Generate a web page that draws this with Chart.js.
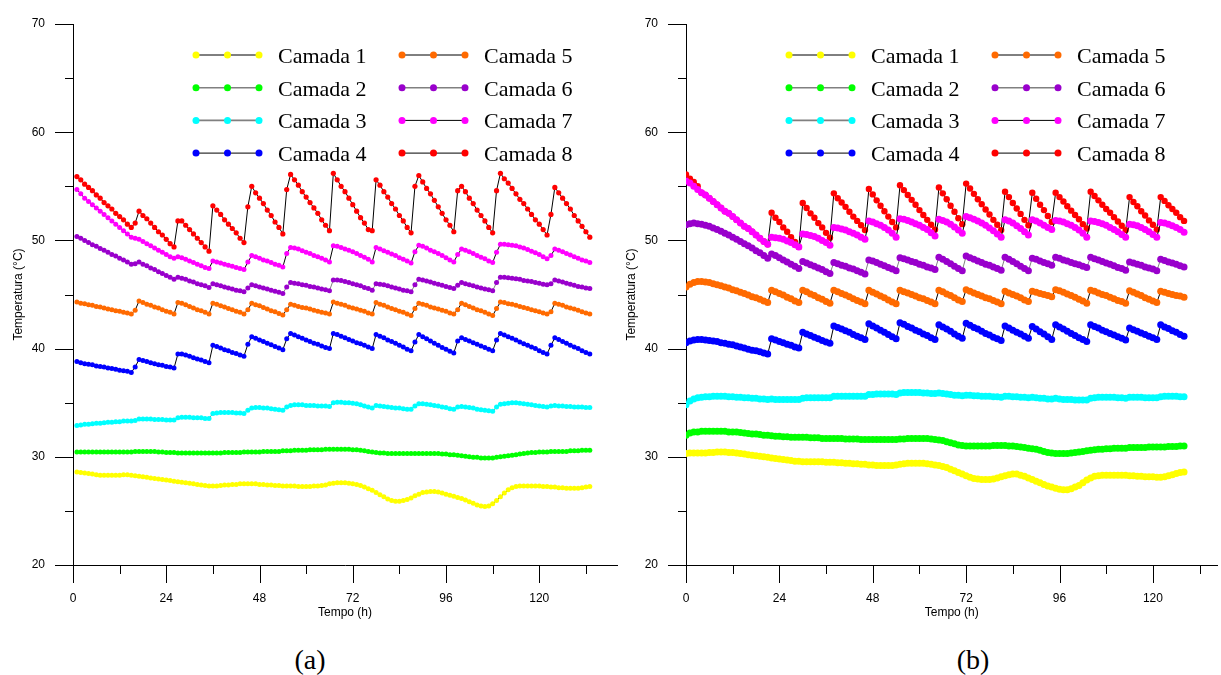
<!DOCTYPE html>
<html lang="pt">
<head>
    <meta charset="UTF-8">
    <title>Temperatura das camadas</title>
    <script src="https://cdn.jsdelivr.net/npm/chart.js@4.4.1/dist/chart.umd.min.js"></script>
    <style>
        body { margin: 0; background: #fff; width: 1221px; height: 675px; position: relative; overflow: hidden; }
        .box { position: absolute; top: 0; height: 640px; }
        #boxA { left: 0; width: 620px; }
        #boxB { left: 613px; width: 608px; }
        .caption { position: absolute; top: 644px; line-height: 32px; font-family: "Liberation Serif", "Times New Roman", serif; font-size: 28px; transform: translateX(-50%); }
    </style>
</head>
<body>
    <div class="box" id="boxA"><canvas id="chartA" width="620" height="640"></canvas></div>
    <div class="box" id="boxB"><canvas id="chartB" width="608" height="640"></canvas></div>
    <div class="caption" style="left: 310px;">(a)</div>
    <div class="caption" style="left: 973px;">(b)</div>

    <script>
        const camadas = ['Camada 1', 'Camada 2', 'Camada 3', 'Camada 4', 'Camada 5', 'Camada 6', 'Camada 7', 'Camada 8'];
        const cores = ['#ffff00', '#00ff00', '#00ffff', '#0000ff', '#ff6a00', '#9900cc', '#ff00ff', '#ff0000'];
        const linhas = ['#000000', '#808080', '#808080', '#000000', '#000000', '#808080', '#000000', '#000000'];

        // (a): hourly readings, t = 1 .. 133 h
        const horasA = Array.from({ length: 133 }, (_, i) => i + 1);

        const camada1A = [28.6, 28.55, 28.5, 28.45, 28.4, 28.35, 28.3, 28.3, 28.3, 28.3, 28.3, 28.3, 28.35, 28.35, 28.3,
            28.25, 28.2, 28.15, 28.1, 28.05, 28.0, 27.95, 27.9, 27.85, 27.8, 27.75, 27.7, 27.65, 27.6, 27.55,
            27.5, 27.45, 27.4, 27.35, 27.3, 27.3, 27.3, 27.35, 27.4, 27.4, 27.45, 27.45, 27.5, 27.5, 27.5,
            27.5, 27.5, 27.45, 27.45, 27.4, 27.4, 27.35, 27.35, 27.3, 27.3, 27.3, 27.3, 27.25, 27.25, 27.25,
            27.25, 27.3, 27.3, 27.35, 27.4, 27.5, 27.55, 27.6, 27.6, 27.6, 27.55, 27.5, 27.45, 27.35, 27.2,
            27.05, 26.9, 26.7, 26.5, 26.3, 26.1, 25.95, 25.9, 25.9, 25.95, 26.05, 26.2, 26.4, 26.55, 26.7,
            26.75, 26.8, 26.8, 26.75, 26.65, 26.55, 26.45, 26.35, 26.25, 26.15, 26.0, 25.85, 25.7, 25.55, 25.45,
            25.4, 25.45, 25.65, 25.95, 26.3, 26.65, 26.95, 27.15, 27.25, 27.3, 27.3, 27.3, 27.3, 27.3, 27.3,
            27.25, 27.25, 27.2, 27.2, 27.15, 27.15, 27.1, 27.1, 27.1, 27.1, 27.15, 27.2, 27.25];
        const camada2A = [30.45, 30.45, 30.45, 30.45, 30.45, 30.45, 30.45, 30.45, 30.45, 30.45, 30.45, 30.45, 30.45, 30.45, 30.45, 30.5, 30.5, 30.5, 30.5, 30.5,
            30.5, 30.45, 30.45, 30.4, 30.4, 30.4, 30.35, 30.35, 30.35, 30.35, 30.35, 30.35, 30.35, 30.35, 30.35, 30.35, 30.35, 30.35, 30.4, 30.4,
            30.4, 30.4, 30.4, 30.45, 30.45, 30.45, 30.45, 30.45, 30.5, 30.5, 30.5, 30.5, 30.5, 30.55, 30.55, 30.55, 30.6, 30.6, 30.6, 30.6,
            30.65, 30.65, 30.65, 30.65, 30.7, 30.7, 30.7, 30.7, 30.7, 30.7, 30.7, 30.65, 30.65, 30.6, 30.55, 30.5, 30.45, 30.4, 30.35, 30.35,
            30.3, 30.3, 30.3, 30.3, 30.3, 30.3, 30.3, 30.3, 30.3, 30.3, 30.3, 30.3, 30.3, 30.3, 30.25, 30.25, 30.2, 30.2, 30.15, 30.1,
            30.05, 30.0, 29.95, 29.95, 29.9, 29.9, 29.9, 29.9, 29.95, 30.0, 30.05, 30.1, 30.15, 30.2, 30.25, 30.3, 30.35, 30.4, 30.4, 30.45,
            30.45, 30.45, 30.5, 30.5, 30.5, 30.5, 30.5, 30.55, 30.55, 30.55, 30.6, 30.6, 30.6];
        const camada3A = [32.9, 32.95, 33.0, 33.0, 33.05, 33.1, 33.1, 33.15, 33.2, 33.2,
            33.25, 33.25, 33.3, 33.3, 33.3, 33.35, 33.5, 33.5, 33.5, 33.5,
            33.45, 33.45, 33.45, 33.4, 33.4, 33.4, 33.6, 33.65, 33.65, 33.65,
            33.6, 33.6, 33.6, 33.55, 33.55, 34.0, 34.05, 34.1, 34.1, 34.1,
            34.1, 34.05, 34.05, 34.0, 34.3, 34.5, 34.55, 34.55, 34.5, 34.5,
            34.45, 34.4, 34.35, 34.3, 34.6, 34.75, 34.8, 34.8, 34.8, 34.75,
            34.75, 34.75, 34.7, 34.7, 34.7, 34.65, 35.0, 35.05, 35.05, 35.0,
            35.0, 34.95, 34.9, 34.8, 34.7, 34.6, 34.5, 34.75, 34.7, 34.65,
            34.6, 34.55, 34.5, 34.5, 34.45, 34.4, 34.4, 34.7, 34.9, 34.9,
            34.85, 34.8, 34.75, 34.7, 34.6, 34.55, 34.45, 34.4, 34.6, 34.65,
            34.6, 34.55, 34.5, 34.4, 34.35, 34.3, 34.25, 34.2, 34.6, 34.85,
            34.9, 34.95, 35.0, 35.0, 34.95, 34.9, 34.85, 34.8, 34.75, 34.7,
            34.65, 34.6, 34.7, 34.75, 34.7, 34.7, 34.65, 34.65, 34.6, 34.6,
            34.6, 34.55, 34.55];
        const camada4A = [38.8, 38.7, 38.6, 38.55, 38.5, 38.4, 38.35, 38.3, 38.2, 38.15,
            38.1, 38.0, 37.95, 37.9, 37.8, 38.3, 39.0, 38.9, 38.8, 38.7,
            38.6, 38.5, 38.45, 38.35, 38.3, 38.2, 39.5, 39.5, 39.4, 39.3,
            39.15, 39.05, 38.95, 38.8, 38.7, 40.3, 40.2, 40.05, 39.9, 39.8,
            39.65, 39.55, 39.4, 39.3, 40.4, 41.1, 40.95, 40.8, 40.65, 40.5,
            40.35, 40.2, 40.05, 39.9, 40.9, 41.4, 41.25, 41.1, 40.95, 40.8,
            40.65, 40.5, 40.4, 40.25, 40.1, 40.0, 41.4, 41.3, 41.15, 41.0,
            40.85, 40.7, 40.55, 40.45, 40.3, 40.15, 40.0, 41.3, 41.15, 41.0,
            40.8, 40.65, 40.5, 40.3, 40.15, 39.95, 39.8, 40.6, 41.3, 41.1,
            40.9, 40.7, 40.5, 40.3, 40.1, 39.95, 39.75, 39.6, 40.7, 41.0,
            40.85, 40.7, 40.55, 40.4, 40.25, 40.1, 39.95, 39.8, 40.8, 41.4,
            41.25, 41.1, 40.95, 40.8, 40.6, 40.45, 40.3, 40.15, 40.0, 39.8,
            39.65, 39.5, 40.3, 41.0, 40.85, 40.65, 40.5, 40.3, 40.15, 40.0,
            39.8, 39.65, 39.5];
        const camada5A = [44.3, 44.2, 44.15, 44.05, 44.0, 43.9, 43.85, 43.75, 43.65, 43.6,
            43.5, 43.45, 43.35, 43.3, 43.2, 43.55, 44.4, 44.25, 44.1, 44.0,
            43.85, 43.75, 43.6, 43.45, 43.35, 43.2, 44.25, 44.2, 44.05, 43.9,
            43.75, 43.6, 43.5, 43.35, 43.2, 44.2, 44.1, 43.95, 43.85, 43.7,
            43.6, 43.45, 43.35, 43.2, 43.6, 44.2, 44.05, 43.95, 43.8, 43.65,
            43.5, 43.4, 43.25, 43.1, 43.6, 44.1, 44.0, 43.9, 43.8, 43.75,
            43.65, 43.55, 43.45, 43.35, 43.3, 43.2, 44.3, 44.2, 44.1, 44.0,
            43.85, 43.75, 43.65, 43.55, 43.45, 43.3, 43.2, 44.25, 44.1, 44.0,
            43.85, 43.7, 43.6, 43.45, 43.35, 43.2, 43.05, 43.7, 44.2, 44.1,
            44.0, 43.85, 43.75, 43.65, 43.55, 43.45, 43.3, 43.2, 43.6, 44.2,
            44.05, 43.9, 43.75, 43.6, 43.5, 43.35, 43.2, 43.05, 43.7, 44.3,
            44.25, 44.15, 44.1, 44.0, 43.9, 43.8, 43.7, 43.6, 43.5, 43.4,
            43.3, 43.2, 43.4, 44.2, 44.1, 44.0, 43.85, 43.75, 43.65, 43.55,
            43.4, 43.3, 43.2];
        const camada6A = [50.35, 50.2, 50.0, 49.8, 49.6, 49.45, 49.25, 49.1, 48.9, 48.7,
            48.55, 48.35, 48.2, 48.0, 47.8, 47.85, 48.0, 47.8, 47.65, 47.45,
            47.3, 47.1, 46.95, 46.75, 46.6, 46.4, 46.6, 46.5, 46.4, 46.25,
            46.15, 46.0, 45.9, 45.8, 45.65, 46.0, 45.9, 45.8, 45.7, 45.6,
            45.5, 45.4, 45.35, 45.25, 45.6, 45.9, 45.8, 45.7, 45.6, 45.5,
            45.4, 45.3, 45.2, 45.1, 45.7, 46.1, 46.05, 46.0, 45.9, 45.85,
            45.75, 45.7, 45.6, 45.5, 45.45, 45.35, 46.35, 46.35, 46.3, 46.2,
            46.1, 46.0, 45.9, 45.8, 45.65, 45.55, 45.4, 46.0, 45.95, 45.9,
            45.8, 45.7, 45.6, 45.5, 45.4, 45.35, 45.25, 45.9, 46.4, 46.35,
            46.25, 46.15, 46.05, 45.95, 45.85, 45.75, 45.65, 45.55, 45.85, 46.1,
            46.0, 45.9, 45.8, 45.7, 45.6, 45.5, 45.45, 45.35, 46.1, 46.6,
            46.6, 46.55, 46.5, 46.45, 46.4, 46.3, 46.25, 46.2, 46.1, 46.05,
            45.95, 45.9, 46.0, 46.35, 46.25, 46.15, 46.05, 45.95, 45.85, 45.75,
            45.7, 45.6, 45.55];
        const camada7A = [54.7, 54.3, 53.9, 53.6, 53.3, 53.0, 52.7, 52.4, 52.1, 51.8,
            51.5, 51.2, 50.9, 50.6, 50.3, 50.2, 50.1, 49.9, 49.7, 49.5,
            49.3, 49.1, 48.9, 48.7, 48.5, 48.35, 48.5, 48.4, 48.25, 48.1,
            47.95, 47.8, 47.65, 47.5, 47.4, 48.1, 48.0, 47.9, 47.8, 47.7,
            47.6, 47.5, 47.4, 47.3, 48.0, 48.6, 48.5, 48.35, 48.2, 48.1,
            47.95, 47.8, 47.7, 47.55, 48.8, 49.35, 49.3, 49.2, 49.05, 48.9,
            48.8, 48.6, 48.5, 48.35, 48.2, 48.0, 49.5, 49.45, 49.35, 49.2,
            49.1, 48.95, 48.8, 48.6, 48.45, 48.25, 48.0, 49.35, 49.2, 49.05,
            48.9, 48.75, 48.6, 48.4, 48.25, 48.1, 47.9, 48.95, 49.55, 49.45,
            49.3, 49.1, 48.95, 48.8, 48.6, 48.4, 48.2, 48.0, 48.7, 49.2,
            49.1, 48.95, 48.8, 48.6, 48.45, 48.3, 48.1, 47.95, 48.9, 49.65,
            49.65, 49.6, 49.55, 49.5, 49.4, 49.3, 49.15, 49.0, 48.85, 48.7,
            48.5, 48.3, 48.6, 49.2, 49.1, 48.95, 48.8, 48.65, 48.5, 48.35,
            48.2, 48.1, 47.95];
        const camada8A = [55.9, 55.6, 55.2, 54.9, 54.6, 54.2, 53.9, 53.5, 53.2, 52.9,
            52.5, 52.2, 51.9, 51.5, 51.2, 51.6, 52.7, 52.3, 52.0, 51.6,
            51.2, 50.8, 50.5, 50.1, 49.7, 49.4, 51.8, 51.8, 51.4, 51.0,
            50.6, 50.2, 49.8, 49.4, 49.0, 53.2, 52.8, 52.4, 51.9, 51.5,
            51.1, 50.7, 50.2, 49.8, 53.1, 55.0, 54.4, 53.9, 53.4, 52.8,
            52.3, 51.7, 51.2, 50.6, 54.7, 56.1, 55.6, 55.1, 54.5, 54.0,
            53.5, 53.0, 52.5, 51.9, 51.4, 50.9, 56.2, 55.6, 55.0, 54.5,
            53.9, 53.3, 52.7, 52.1, 51.6, 51.0, 50.9, 55.6, 55.1, 54.5,
            54.0, 53.4, 52.9, 52.3, 51.8, 51.2, 50.7, 55.0, 56.0, 55.4,
            54.8, 54.3, 53.7, 53.1, 52.5, 51.9, 51.4, 50.8, 54.6, 55.0,
            54.5, 53.9, 53.4, 52.8, 52.3, 51.8, 51.2, 50.7, 54.6, 56.2,
            55.7, 55.3, 54.8, 54.3, 53.8, 53.4, 52.9, 52.4, 51.9, 51.5,
            51.0, 50.5, 52.4, 54.9, 54.4, 53.9, 53.4, 52.9, 52.3, 51.8,
            51.3, 50.8, 50.3];

        // (b): hourly readings, t = 0 .. 128 h
        const horasB = Array.from({ length: 129 }, (_, i) => i);

        const camada1B = [30.3, 30.35, 30.35, 30.35, 30.35, 30.35, 30.4, 30.4, 30.45, 30.45,
            30.45, 30.4, 30.4, 30.35, 30.3, 30.25, 30.2, 30.15, 30.1, 30.05,
            30.0, 29.95, 29.9, 29.85, 29.8, 29.75, 29.7, 29.65, 29.6, 29.6,
            29.55, 29.55, 29.55, 29.55, 29.55, 29.55, 29.5, 29.5, 29.5, 29.45,
            29.45, 29.4, 29.4, 29.35, 29.35, 29.3, 29.3, 29.25, 29.25, 29.2,
            29.2, 29.2, 29.2, 29.2, 29.25, 29.3, 29.35, 29.4, 29.4, 29.4,
            29.4, 29.4, 29.35, 29.3, 29.25, 29.2, 29.1, 29.0, 28.85, 28.7,
            28.55, 28.4, 28.25, 28.1, 28.0, 27.95, 27.9, 27.9, 27.9, 27.95,
            28.05, 28.15, 28.25, 28.35, 28.4, 28.4, 28.3, 28.2, 28.05, 27.9,
            27.75, 27.6, 27.45, 27.3, 27.2, 27.1, 27.0, 26.95, 26.95, 27.05,
            27.2, 27.35, 27.6, 27.85, 28.05, 28.2, 28.25, 28.3, 28.3, 28.3,
            28.3, 28.3, 28.3, 28.3, 28.25, 28.25, 28.2, 28.2, 28.15, 28.15,
            28.15, 28.1, 28.1, 28.15, 28.25, 28.35, 28.45, 28.55, 28.6];
        const camada2B = [32.0, 32.2, 32.3, 32.3, 32.35, 32.35, 32.35, 32.35, 32.35, 32.35,
            32.35, 32.3, 32.3, 32.3, 32.25, 32.2, 32.15, 32.1, 32.1, 32.05,
            32.0, 32.0, 31.95, 31.9, 31.9, 31.85, 31.85, 31.8, 31.8, 31.8,
            31.8, 31.8, 31.75, 31.75, 31.75, 31.7, 31.7, 31.7, 31.7, 31.7,
            31.7, 31.65, 31.65, 31.65, 31.65, 31.6, 31.6, 31.6, 31.6, 31.6,
            31.6, 31.6, 31.6, 31.6, 31.6, 31.65, 31.65, 31.7, 31.7, 31.7,
            31.7, 31.7, 31.7, 31.65, 31.6, 31.55, 31.5, 31.4, 31.3, 31.2,
            31.1, 31.05, 31.0, 31.0, 31.0, 31.0, 31.0, 31.0, 31.0, 31.05,
            31.05, 31.05, 31.05, 31.0, 31.0, 30.95, 30.9, 30.85, 30.8, 30.75,
            30.7, 30.6, 30.5, 30.4, 30.35, 30.3, 30.3, 30.3, 30.3, 30.35,
            30.4, 30.45, 30.5, 30.55, 30.6, 30.65, 30.7, 30.7, 30.75, 30.75,
            30.8, 30.8, 30.8, 30.8, 30.85, 30.85, 30.85, 30.85, 30.85, 30.9,
            30.9, 30.9, 30.9, 30.9, 30.95, 30.95, 30.95, 31.0, 31.0];
        const camada3B = [34.8, 35.15, 35.35, 35.45, 35.5, 35.55, 35.55, 35.6, 35.6, 35.6,
            35.6, 35.55, 35.55, 35.5, 35.5, 35.45, 35.45, 35.4, 35.4, 35.35,
            35.35, 35.3, 35.35, 35.3, 35.3, 35.3, 35.3, 35.3, 35.3, 35.3,
            35.4, 35.45, 35.45, 35.45, 35.45, 35.45, 35.45, 35.45, 35.6, 35.6,
            35.6, 35.6, 35.6, 35.6, 35.6, 35.6, 35.6, 35.75, 35.75, 35.8,
            35.8, 35.8, 35.8, 35.8, 35.75, 35.9, 35.95, 35.95, 35.95, 35.95,
            35.95, 35.9, 35.9, 35.85, 35.85, 35.9, 35.85, 35.8, 35.75, 35.7,
            35.7, 35.65, 35.7, 35.7, 35.65, 35.65, 35.6, 35.6, 35.6, 35.55,
            35.55, 35.5, 35.6, 35.6, 35.55, 35.55, 35.5, 35.5, 35.45, 35.5,
            35.45, 35.4, 35.4, 35.35, 35.35, 35.4, 35.35, 35.3, 35.3, 35.3,
            35.25, 35.25, 35.25, 35.25, 35.4, 35.45, 35.5, 35.5, 35.5, 35.5,
            35.5, 35.45, 35.45, 35.4, 35.5, 35.5, 35.5, 35.5, 35.45, 35.45,
            35.45, 35.45, 35.55, 35.6, 35.6, 35.6, 35.6, 35.55, 35.55];
        const camada4B = [40.55, 40.7, 40.8, 40.85, 40.85, 40.8, 40.75, 40.7, 40.65, 40.55,
            40.5, 40.4, 40.35, 40.25, 40.15, 40.05, 39.95, 39.85, 39.8, 39.7,
            39.6, 39.5, 40.9, 40.8, 40.65, 40.55, 40.4, 40.3, 40.15, 40.05,
            41.5, 41.35, 41.2, 41.05, 40.9, 40.75, 40.6, 40.5, 42.1, 41.95,
            41.8, 41.65, 41.5, 41.3, 41.15, 41.0, 40.85, 42.3, 42.1, 41.9,
            41.7, 41.5, 41.3, 41.1, 40.9, 42.4, 42.25, 42.05, 41.9, 41.7,
            41.55, 41.35, 41.2, 41.0, 40.85, 42.2, 42.0, 41.8, 41.6, 41.35,
            41.15, 40.95, 42.35, 42.15, 41.95, 41.8, 41.6, 41.4, 41.25, 41.05,
            40.9, 40.75, 42.1, 41.9, 41.7, 41.5, 41.35, 41.15, 40.95, 42.05,
            41.8, 41.55, 41.35, 41.1, 40.85, 42.2, 42.0, 41.8, 41.6, 41.4,
            41.2, 41.0, 40.85, 40.65, 42.2, 42.05, 41.9, 41.7, 41.55, 41.4,
            41.25, 41.1, 40.95, 40.8, 41.9, 41.75, 41.6, 41.45, 41.3, 41.15,
            41.0, 40.85, 42.2, 42.0, 41.85, 41.65, 41.5, 41.3, 41.15];
        const camada5B = [45.7, 45.95, 46.1, 46.2, 46.2, 46.15, 46.1, 46.0, 45.9, 45.8,
            45.7, 45.6, 45.45, 45.35, 45.2, 45.1, 44.95, 44.8, 44.7, 44.55,
            44.4, 44.25, 45.4, 45.25, 45.1, 44.95, 44.75, 44.6, 44.4, 44.25,
            45.4, 45.25, 45.05, 44.9, 44.7, 44.55, 44.35, 44.2, 45.4, 45.25,
            45.1, 44.95, 44.8, 44.6, 44.45, 44.3, 44.15, 45.4, 45.2, 45.05,
            44.85, 44.7, 44.5, 44.3, 44.15, 45.4, 45.25, 45.15, 45.0, 44.85,
            44.7, 44.6, 44.45, 44.3, 44.15, 45.4, 45.25, 45.05, 44.9, 44.7,
            44.5, 44.35, 45.45, 45.3, 45.15, 45.0, 44.85, 44.7, 44.6, 44.45,
            44.3, 44.15, 45.3, 45.15, 45.0, 44.85, 44.7, 44.5, 44.35, 45.3,
            45.2, 45.1, 45.0, 44.9, 44.8, 45.45, 45.35, 45.2, 45.05, 44.9,
            44.75, 44.55, 44.4, 44.2, 45.4, 45.3, 45.15, 45.0, 44.9, 44.75,
            44.6, 44.45, 44.35, 44.2, 45.35, 45.2, 45.05, 44.9, 44.7, 44.55,
            44.4, 44.25, 45.3, 45.2, 45.1, 45.0, 44.9, 44.85, 44.75];
        const camada6B = [51.45, 51.55, 51.6, 51.55, 51.5, 51.4, 51.3, 51.15, 51.0, 50.85,
            50.65, 50.5, 50.3, 50.1, 49.9, 49.7, 49.5, 49.3, 49.05, 48.85,
            48.6, 48.35, 48.75, 48.6, 48.4, 48.2, 48.0, 47.8, 47.6, 47.4,
            48.05, 47.9, 47.75, 47.6, 47.45, 47.3, 47.1, 46.95, 47.95, 47.85,
            47.7, 47.6, 47.45, 47.35, 47.2, 47.05, 46.9, 48.2, 48.1, 47.95,
            47.8, 47.65, 47.5, 47.35, 47.2, 48.4, 48.3, 48.2, 48.05, 47.95,
            47.8, 47.7, 47.55, 47.45, 47.3, 48.45, 48.25, 48.05, 47.85, 47.6,
            47.4, 47.2, 48.55, 48.4, 48.25, 48.1, 47.95, 47.8, 47.7, 47.55,
            47.4, 47.25, 48.45, 48.25, 48.05, 47.85, 47.6, 47.4, 47.2, 48.35,
            48.25, 48.1, 47.95, 47.85, 47.7, 48.45, 48.35, 48.2, 48.1, 47.95,
            47.85, 47.75, 47.6, 47.5, 48.45, 48.3, 48.2, 48.05, 47.9, 47.8,
            47.65, 47.5, 47.4, 47.25, 48.0, 47.9, 47.8, 47.7, 47.55, 47.45,
            47.35, 47.2, 48.25, 48.15, 48.0, 47.9, 47.8, 47.65, 47.55];
        const camada7B = [55.5, 55.3, 55.0, 54.7, 54.4, 54.2, 53.9, 53.6, 53.3, 53.0,
            52.7, 52.5, 52.2, 51.9, 51.6, 51.3, 51.1, 50.8, 50.5, 50.2,
            49.9, 49.65, 50.3, 50.25, 50.2, 50.1, 49.95, 49.8, 49.6, 49.4,
            50.6, 50.55, 50.45, 50.35, 50.2, 50.0, 49.8, 49.55, 51.2, 51.15,
            51.05, 50.95, 50.8, 50.65, 50.5, 50.3, 50.1, 51.8, 51.7, 51.55,
            51.4, 51.2, 50.95, 50.65, 50.3, 52.0, 51.95, 51.85, 51.7, 51.55,
            51.4, 51.2, 51.0, 50.7, 50.4, 51.95, 51.85, 51.7, 51.5, 51.25,
            50.95, 50.65, 52.2, 52.1, 51.95, 51.8, 51.6, 51.4, 51.15, 50.9,
            50.6, 50.3, 51.9, 51.8, 51.6, 51.35, 51.1, 50.8, 50.5, 51.9,
            51.8, 51.6, 51.4, 51.2, 51.0, 51.85, 51.8, 51.7, 51.55, 51.4,
            51.2, 50.95, 50.65, 50.3, 51.8, 51.75, 51.65, 51.55, 51.4, 51.2,
            51.0, 50.8, 50.55, 50.3, 51.5, 51.45, 51.35, 51.2, 51.0, 50.8,
            50.55, 50.3, 51.65, 51.6, 51.5, 51.35, 51.2, 51.0, 50.75];
        const camada8B = [56.1, 55.7, 55.4, 55.0, 54.4, 54.2, 53.9, 53.6, 53.3, 53.0,
            52.7, 52.5, 52.2, 51.9, 51.6, 51.3, 51.1, 50.8, 50.5, 50.2,
            49.9, 49.65, 52.55, 52.1, 51.7, 51.2, 50.8, 50.3, 49.85, 49.4,
            53.45, 53.0, 52.5, 52.1, 51.6, 51.2, 50.7, 50.25, 54.35, 53.9,
            53.5, 53.1, 52.65, 52.2, 51.8, 51.4, 50.95, 54.75, 54.25, 53.7,
            53.2, 52.7, 52.2, 51.7, 51.2, 55.1, 54.65, 54.2, 53.75, 53.3,
            52.8, 52.35, 51.9, 51.45, 51.0, 54.9, 54.35, 53.8, 53.2, 52.65,
            52.05, 51.5, 55.25, 54.8, 54.3, 53.8, 53.35, 52.85, 52.4, 51.9,
            51.45, 50.95, 54.5, 54.0, 53.45, 52.95, 52.45, 51.9, 51.4, 54.4,
            53.85, 53.3, 52.8, 52.25, 51.7, 54.4, 54.0, 53.6, 53.15, 52.75,
            52.35, 51.95, 51.5, 51.1, 54.5, 54.1, 53.7, 53.3, 52.9, 52.55,
            52.15, 51.75, 51.35, 50.95, 54.0, 53.55, 53.15, 52.7, 52.3, 51.85,
            51.45, 51.0, 54.0, 53.65, 53.25, 52.9, 52.55, 52.15, 51.8];

        const seriesA = [camada1A, camada2A, camada3A, camada4A, camada5A, camada6A, camada7A, camada8A];
        const seriesB = [camada1B, camada2B, camada3B, camada4B, camada5B, camada6B, camada7B, camada8B];

        Chart.defaults.color = '#000';
        Chart.defaults.font.family = '"Liberation Sans", Arial, sans-serif';

        // minor/major tick marks like the original plotting software
        const tickMarks = {
            id: 'tickMarks',
            afterDraw(chart) {
                const { ctx, chartArea, scales: { x, y } } = chart;
                ctx.save();
                ctx.strokeStyle = '#000';
                ctx.lineWidth = 1;
                ctx.beginPath();
                for (let v = 0; v <= x.max; v += 12) {
                    const px = Math.round(x.getPixelForValue(v)) + 0.5;
                    const len = v % 24 === 0 ? 18 : 9;
                    ctx.moveTo(px, chartArea.bottom);
                    ctx.lineTo(px, chartArea.bottom + len);
                }
                for (let v = 20; v <= 70; v += 5) {
                    const py = Math.round(y.getPixelForValue(v)) + 0.5;
                    const len = v % 10 === 0 ? 18 : 8;
                    ctx.moveTo(chartArea.left - len, py);
                    ctx.lineTo(chartArea.left, py);
                }
                ctx.stroke();
                ctx.restore();
            }
        };

        // two-column legend inside the plot
        const camadaLegend = {
            id: 'camadaLegend',
            afterDraw(chart, args, opts) {
                const ctx = chart.ctx;
                ctx.save();
                chart.data.datasets.forEach((ds, i) => {
                    const x0 = opts.left + Math.floor(i / 4) * 206;
                    const y0 = 55 + (i % 4) * 32.7;
                    ctx.strokeStyle = ds.borderColor;
                    ctx.lineWidth = ds.borderColor === '#000000' ? 1 : 1.6;
                    ctx.beginPath();
                    ctx.moveTo(x0, y0);
                    ctx.lineTo(x0 + 63, y0);
                    ctx.stroke();
                    ctx.fillStyle = ds.pointBackgroundColor;
                    [0, 31.5, 63].forEach(dx => {
                        ctx.beginPath();
                        ctx.arc(x0 + dx, y0, 3.5, 0, Math.PI * 2);
                        ctx.fill();
                    });
                    ctx.fillStyle = '#000';
                    ctx.font = '22px "Liberation Serif", "Times New Roman", serif';
                    ctx.textBaseline = 'alphabetic';
                    ctx.fillText(ds.label, x0 + 82, y0 + 8);
                });
                ctx.restore();
            }
        };

        function makeChart(id, horas, series, xMax, padRight, raio, legendLeft) {
            const datasets = series.map((vals, i) => ({
                label: camadas[i],
                data: vals.map((v, k) => ({ x: horas[k], y: v })),
                borderColor: linhas[i],
                borderWidth: 1,
                pointRadius: raio[i],
                pointBackgroundColor: cores[i],
                pointBorderColor: cores[i],
                pointBorderWidth: 0,
                pointHoverRadius: 0,
                tension: 0
            }));

            // label distance comes from an invisible tick length (grid hidden),
            // so it does not inflate the layout padding the way ticks.padding does
            return new Chart(document.getElementById(id), {
                type: 'line',
                data: { datasets },
                plugins: [tickMarks, camadaLegend],
                options: {
                    responsive: false,
                    animation: false,
                    events: [],
                    layout: { padding: { top: 24, right: padRight, bottom: 0, left: 0 } },
                    plugins: {
                        legend: { display: false },
                        tooltip: { enabled: false },
                        camadaLegend: { left: legendLeft }
                    },
                    scales: {
                        x: {
                            type: 'linear',
                            min: 0,
                            max: xMax,
                            afterFit: s => { s.height = 75; },
                            grid: { display: false, drawTicks: true, tickLength: 26 },
                            border: { display: true, color: '#000', width: 1 },
                            ticks: {
                                stepSize: 12,
                                autoSkip: false,
                                maxRotation: 0,
                                padding: 0,
                                font: { size: 12 },
                                callback: v => (v % 24 === 0 ? v : '')
                            },
                            title: { display: true, text: 'Tempo (h)', font: { size: 12 }, padding: { top: 0, bottom: 20 } }
                        },
                        y: {
                            min: 20,
                            max: 70,
                            afterFit: s => { s.width = 73; },
                            grid: { display: false, drawTicks: true, tickLength: 28 },
                            border: { display: true, color: '#000', width: 1 },
                            ticks: {
                                stepSize: 5,
                                padding: 0,
                                font: { size: 12 },
                                callback: v => (v % 10 === 0 ? v : '')
                            },
                            title: { display: true, text: 'Temperatura (°C)', font: { size: 12 }, padding: { top: 11, bottom: 0 } }
                        }
                    }
                }
            });
        }

        makeChart('chartA', horasA, seriesA, 140, 3, [2.5, 2.5, 2.5, 2.5, 2.5, 2.5, 2.5, 2.6], 196);
        makeChart('chartB', horasB, seriesB, 136.6, 0, [3.5, 3.5, 3.5, 3.5, 3.5, 3.5, 3.5, 3.2], 176);
    </script>
</body>
</html>
